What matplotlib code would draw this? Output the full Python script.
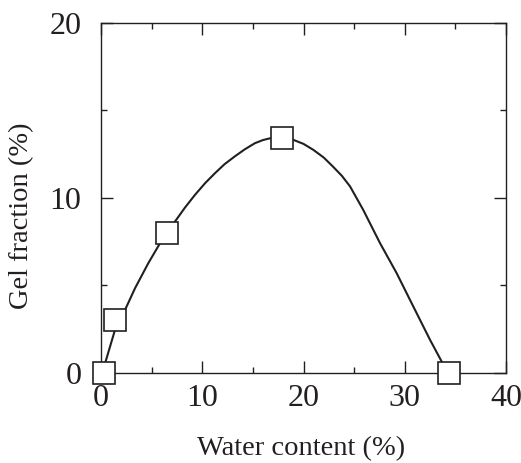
import matplotlib
matplotlib.use('Agg')
import matplotlib.pyplot as plt

# measured points
water = [0.3, 1.35, 6.5, 17.85, 34.4]
gel = [0.0, 3.0, 8.0, 13.4, 0.0]

# smooth guide curve
curve_x = [0.3, 0.4, 1.38, 2.37, 3.36, 4.67, 5.83, 7.31, 8.3, 9.28, 10.3, 11.26, 12.2, 13.2,
           14.2, 15.2, 16.0, 16.7, 17.85, 19.0, 20.0, 20.97, 22.0, 22.9, 23.8, 24.6, 25.9,
           27.56, 29.2, 30.85, 32.5, 33.65, 34.4]
curve_y = [0.0, 0.55, 2.46, 3.6, 4.84, 6.27, 7.41, 8.65, 9.45, 10.17, 10.85, 11.41, 11.92,
           12.36, 12.77, 13.12, 13.3, 13.4, 13.45, 13.31, 13.08, 12.74, 12.3, 11.79, 11.25,
           10.65, 9.31, 7.41, 5.7, 3.79, 1.89, 0.65, 0.0]

ink = '#231f20'
plt.rcParams['font.family'] = ['Liberation Serif', 'DejaVu Serif']

fig = plt.figure(figsize=(5.21, 4.63), dpi=100)
ax = fig.add_axes([0.1939, 0.1944, 0.9712 - 0.1939, 0.951 - 0.1944])

ax.plot(curve_x, curve_y, color=ink, lw=1.5, zorder=2)
ax.plot(water, gel, ls='none', marker='s', ms=16, mfc='white', mec=ink, mew=1.2,
        clip_on=False, zorder=3)

ax.set_xlim(0, 40)
ax.set_ylim(0, 20)
ax.set_xticks([0, 10, 20, 30, 40])
ax.set_xticks([5, 15, 25, 35], minor=True)
ax.set_yticks([0, 10, 20])
ax.set_yticks([5, 15], minor=True)

for s in ax.spines.values():
    s.set_color(ink)
    s.set_linewidth(1.0)
ax.tick_params(which='both', direction='in', top=True, right=True, color=ink, width=1.0)
ax.tick_params(which='major', length=8.5, labelsize=23, labelcolor=ink)
ax.tick_params(which='minor', length=4.3)
ax.tick_params(axis='x', which='major', pad=8)
ax.tick_params(axis='y', which='major', pad=14)

fig.text(301 / 521, 1 - 449 / 463, 'Water content (%)', ha='center', va='center',
         fontsize=20.5, color=ink)
fig.text(22 / 521, 1 - 216 / 463, 'Gel fraction (%)', ha='center', va='center',
         rotation=90, fontsize=20.5, color=ink)

fig.savefig('out.png', dpi=100)
